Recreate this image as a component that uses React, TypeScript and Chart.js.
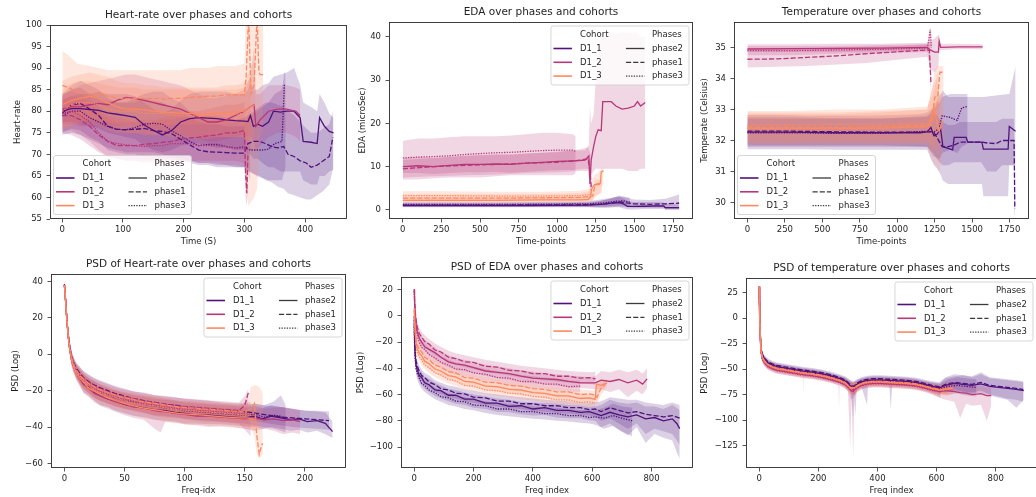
import React, { useEffect, useRef } from "react";
import { Chart, registerables } from "chart.js";
Chart.register(...registerables);

type Row = [number, number, number, number]; // x, mean, lower, upper

const COHORTS = ["D1_1", "D1_2", "D1_3"];
const PHASES = ["phase2", "phase1", "phase3"];
const LINE_COLORS = ["#51127c", "#b73779", "#fc8961"];
const BAND_COLORS = ["rgba(81,18,124,0.2)", "rgba(183,55,121,0.2)", "rgba(252,137,97,0.2)"];
const DASHES = [[], [5.2, 2], [1.3, 1.3]];
const FONT = '"DejaVu Sans", sans-serif';
const TICK_PX = 8.5;
const TITLE_PX = 10.5;

// ---------------- tick labels ----------------
const HR_XT = [0, 100, 200, 300, 400];
const HR_YT = [55, 60, 65, 70, 75, 80, 85, 90, 95, 100];
const TP_XT = [0, 250, 500, 750, 1000, 1250, 1500, 1750];
const EDA_YT = [0, 10, 20, 30, 40];
const TEMP_YT = [30, 31, 32, 33, 34, 35];
const PHR_XT = [0, 50, 100, 150, 200];
const PHR_YT = [-60, -40, -20, 0, 20, 40];
const PF_XT = [0, 200, 400, 600, 800];
const PEDA_YT = [-100, -80, -60, -40, -20, 0, 20];
const PTEMP_YT = [-125, -100, -75, -50, -25, 0, 25];

// ---------------- Heart-rate ----------------
const HR_11_P2: Row[] = [[0,80,77.5,82.5],[15,80.6,77.5,83.5],[30,80.6,77,84],[45,80.4,76.5,84],[60,80.2,76,84.5],[75,79.6,75,84],[90,79.3,74.5,84],[105,79,74,84],[120,78.6,73.5,83.5],[135,76.8,72,82],[150,75.6,71,80.5],[165,74.5,70.5,79.5],[180,75.5,71,80.5],[195,77.5,72,82.5],[210,78.3,72.5,84],[225,78.5,72.5,84.5],[240,78.4,72,84.5],[255,78.3,71.5,84.5],[270,78,71.5,84.5],[285,77.8,71,84],[300,77.7,71,84],[306,77.6,70,85],[310,79,70,87],[315,76.5,69,85],[322,77,69,85],[330,76.5,68,86],[340,77.5,67,86.5],[348,80,67,88],[360,79.8,66,88.5],[370,80,66,89],[382,80,66,90],[392,78.5,66,86],[397,73,64,82],[410,72.8,63,81],[420,72.5,63,80],[424,78.5,65,84],[432,76.5,65,82],[440,75.3,66,79.5],[447,75,66.5,78.5]];
const HR_11_P1: Row[] = [[0,79.5,75,84],[15,81.5,76,86],[30,81.8,75.5,87],[45,80.5,74,86],[60,79,73,85],[75,76.5,71,83],[90,75.8,70.5,82],[105,75.7,70,82],[120,75.8,70,82],[135,76,69.5,83],[150,75.5,69.5,82.5],[165,75.3,69,82],[180,74.8,69,81],[195,73.5,68.5,80],[210,72.2,68,78.5],[225,71,67.5,77.5],[240,70.6,67.5,77],[255,70.5,67,77],[270,70.4,67,76.5],[285,70.3,67,76.5],[300,70.3,67,76.5],[306,72.5,66,79],[315,73,65.5,80],[325,73,65,81],[335,72.5,64,82],[345,71.8,63.5,82],[355,71.5,62.5,81.5],[365,71.8,62,81],[372,70,61,80],[382,69.5,60.5,79],[392,68.5,60,77.5],[402,68,59.5,76],[410,67,59.5,75],[420,67.5,60.5,75],[430,68.5,61.5,76],[440,69.5,63,77],[446,74,66.5,80]];
const HR_11_P3: Row[] = [[0,79,74.5,83.5],[15,80,75,85],[30,80,74.5,85.5],[45,78.5,73.5,84],[60,77.5,72.5,83],[75,76.5,71.5,82.5],[90,75.8,71,82],[105,75.7,70.5,82],[120,76.2,70.5,83],[135,77,70.5,84],[150,77.2,70.5,84.5],[165,77,70,84.5],[180,75.5,69.5,83],[195,74.3,69,82],[210,73,68.5,80],[225,72,68,79],[240,72.3,68,79],[255,72.3,67.5,79],[270,71.8,67.5,78.5],[285,71.5,67,78],[300,71.7,67,78.5],[310,71,66,79],[320,71,65,80],[330,71,64.5,81],[340,71.2,64,82],[350,72.5,64,84],[362,73,64,85],[366,86,66,89],[368,86,67,89]];
const HR_12_P2: Row[] = [[0,80.5,77,84],[15,81,77,85],[30,81,76.5,86],[45,81.5,76.5,86.5],[60,81.8,76.5,87],[75,81.5,76,87.5],[90,82.5,76.5,88],[105,83.2,77,88.5],[120,83,77,88.5],[135,82.5,76.5,88],[150,82,76,87.5],[165,81.5,75.5,87],[180,81,75,86.5],[195,80.5,74.5,86],[210,79.5,74,85],[225,78.5,73.5,84],[240,77.5,73,83],[255,77.5,73,83],[270,78,73.5,83.5],[285,79,74,84],[300,80,74.5,85],[310,81,74,88],[316,81.5,73,95],[319,76.5,71,84],[326,78,72,84],[340,80,74,86],[355,80.5,75,86],[370,80.5,75,86],[385,80,74,85.5],[392,79,73,85]];
const HR_12_P1: Row[] = [[0,79,75,83],[15,79,74.5,83.5],[30,78,73.5,83],[45,76.5,72,82],[60,74.5,70.5,80],[75,73,69.5,78.5],[90,72,69,77.5],[105,72,68.5,77.5],[120,72,68.5,77.5],[135,72.3,68.5,78],[150,72.5,68.5,78],[165,72.8,68.5,78.5],[180,73,68.5,79],[195,73.5,68.5,79.5],[210,73.8,68.5,80],[225,74,68.5,80],[240,74.3,68.5,80.5],[255,74.5,68.5,81],[270,75,68.5,81.5],[285,75,68.5,81.5],[300,75.5,68,82],[302,66,60,76],[304,61,58,70],[306,70,62,78]];
const HR_12_P3: Row[] = [[0,79.5,75.5,84],[15,80,75.5,84.5],[30,79,74.5,84],[45,77.5,73,83],[60,75,71,81],[75,73,69.5,79],[90,72.5,69,78.5],[105,72.2,68.5,78],[120,72,68.5,77.5],[135,71.8,68,77.5],[150,72,68,77.5],[165,72,68,78],[180,72.5,68.5,78],[195,72.5,68.5,78.5],[210,72.5,68.5,78.5],[225,72,68,78],[240,72,68,78],[255,72,68,78],[270,71.8,67.5,78],[285,71.5,67.5,78],[300,71.5,67,78.5],[310,71,64,80]];
const HR_13_P2: Row[] = [[0,81.5,76,87],[15,82.5,77,88],[30,83,77.5,88.5],[45,83.5,78,89],[60,83,77.5,88.5],[75,82,76.5,88],[90,81,75.5,87],[105,80.5,75,86.5],[120,80.5,75,86.5],[135,80.3,75,86],[150,80,74.5,86],[165,79.8,74.5,85.5],[180,79.7,74.5,85.5],[195,79.5,74,85.5],[210,79.5,74,85.5],[225,79.3,73.5,85.5],[240,79.3,73.5,85.5],[255,79.5,74,85.5],[270,79.7,74,86],[285,79.8,74,86],[300,80,74,86.5],[310,81,72,90],[318,81.5,70,92]];
const HR_13_P1: Row[] = [[0,86,80,94],[10,85.5,80,93],[25,84.5,79,91],[45,84,78.5,90.5],[60,84,78,90],[75,83.5,77.5,89.5],[90,83,77,89.5],[105,83,77,89.5],[120,83,77,89.5],[135,83,77,89.5],[150,83,77,89.5],[165,82.8,76.5,89.5],[180,83,77,89.5],[195,83,77,89.5],[210,83.2,77,90],[225,83.3,77,90],[240,83.5,77,90],[255,83.5,77,90.5],[270,83.8,77,90.5],[285,83.8,77,90.5],[300,83.8,76.5,91],[303,88,62,105],[307,102,58,110],[311,84,59,108],[316,86,60,110],[321,102,62,110],[324,89,70,108],[326,88.5,74,104],[331,88.5,76,102]];
const HR_13_P3: Row[] = [[0,80,75.5,85],[15,81.5,76.5,86.5],[30,82,77,87],[45,82,77,87],[60,81.5,76.5,86.5],[75,80.5,75.5,86],[90,80,75,85.5],[105,80,75,85.5],[120,80,75,85.5],[135,79.5,74.5,85],[150,79.5,74.5,85],[165,79.5,74.5,85],[180,79,74,85],[195,79,74,85],[210,79,74,85],[225,79,74,85],[240,79,74,85],[255,79,74,85],[270,79,74,85],[285,79.3,74,85],[300,79.5,74,85.5],[310,80,72,88]];

// ---------------- EDA ----------------
const E_11_P2: Row[] = [[0,1,0.6,1.4],[200,1,0.6,1.4],[400,1,0.6,1.4],[600,1,0.6,1.4],[800,1,0.6,1.4],[1000,1.05,0.6,1.5],[1200,1.1,0.6,1.6],[1260,1.2,0.5,1.9],[1320,1.4,0.5,2.4],[1360,1.6,0.6,2.8],[1400,1.7,0.6,3.1],[1430,1.4,0.3,2.6],[1455,0.8,0.1,2],[1500,0.8,0.1,1.8],[1560,0.85,0.2,1.8],[1620,0.9,0.2,1.8],[1690,0.9,0.2,1.7],[1700,0.5,0,1.4],[1790,0.5,0,1.3]];
const E_11_P1: Row[] = [[0,1.1,0.7,1.6],[200,1.1,0.7,1.6],[400,1.1,0.7,1.6],[600,1.1,0.7,1.6],[800,1.15,0.7,1.7],[1000,1.15,0.7,1.7],[1200,1.2,0.7,1.8],[1280,1.3,0.6,2.1],[1350,1.6,0.6,2.6],[1400,1.9,0.8,3.3],[1450,1.6,0.6,2.8],[1500,1.4,0.5,2.4],[1600,1.3,0.5,2.3],[1700,1.4,0.5,2.6],[1760,1.5,0.5,3.2],[1790,1.6,0.4,3.6]];
const E_11_P3: Row[] = [[0,1.3,0.8,1.8],[200,1.3,0.8,1.8],[400,1.3,0.8,1.8],[600,1.3,0.8,1.8],[800,1.3,0.8,1.8],[1000,1.35,0.8,1.9],[1200,1.4,0.8,2],[1300,1.6,0.8,2.5],[1380,2,1,3],[1430,2.1,1,3.1],[1470,1.8,0.9,2.8]];
const E_12_P2: Row[] = [[0,10,8.5,12],[100,10.2,8.5,12.3],[200,10,8.3,12],[300,10.3,8.5,12.3],[400,10.5,8.7,12.5],[500,10.5,8.7,12.6],[600,10.6,8.8,12.8],[700,10.5,8.6,12.7],[800,10.8,8.8,13],[900,11,9,13.2],[1000,11.2,9.2,13.5],[1100,11.3,9.2,13.7],[1180,11.5,9.5,13.8],[1205,12.5,9.5,15],[1212,6,4,24],[1220,11.5,8,20],[1235,14.5,9,22],[1250,17,9.5,30],[1265,18.5,9.5,38],[1285,18.3,9.5,40],[1295,25,9.5,41],[1350,25,9.5,41],[1380,24,9.5,40.5],[1420,23.3,9.5,41],[1460,23.5,9,41],[1500,24,9,41],[1520,25,9,41],[1540,24,9.5,40],[1570,24.8,9.5,40]];
const E_12_P1: Row[] = [[0,9.5,7.5,11.5],[200,10,7.8,12],[400,10.3,8,12.5],[600,10.5,8.2,12.8],[800,10.8,8.5,13],[1000,11,8.7,13.3],[1150,11.5,9,14],[1200,11.8,9,14.5],[1215,8,4,13],[1222,4.5,3,9]];
const E_12_P3: Row[] = [[0,12,7,16],[100,12.2,7,16.5],[200,12.3,7.3,16.5],[300,12.5,7.5,16.8],[400,12.8,7.5,17],[500,13,7.5,17],[600,13.2,7.8,17],[700,13.3,8,17.2],[800,13.5,8,17.5],[900,13.7,8,17.8],[1000,13.8,8,17.8],[1100,13.8,8,17.5],[1120,13.5,8.5,17]];
const E_13_P2: Row[] = [[0,2.2,1.6,2.9],[300,2.2,1.6,2.9],[600,2.2,1.6,2.9],[900,2.3,1.7,3],[1150,2.3,1.7,3],[1200,2.4,1.7,3.2],[1215,3,1.8,4.5],[1225,5,2,7],[1240,5.8,3,8],[1260,6,3.5,8.5],[1280,6.2,4,9],[1285,8.8,5,9.8],[1300,9,6,9.8]];
const E_13_P1: Row[] = [[0,2.7,1.8,3.6],[300,2.7,1.8,3.6],[600,2.7,1.8,3.6],[900,2.8,1.9,3.7],[1150,2.9,2,3.9],[1230,3.2,2.1,4.5],[1245,5.8,3,7],[1270,5.9,3.5,7],[1290,6,4,7]];
const E_13_P3: Row[] = [[0,3.3,2.3,4.3],[300,3.3,2.3,4.3],[600,3.2,2.2,4.2],[900,3.2,2.2,4.2],[1150,3.3,2.3,4.4],[1220,3.6,2.5,5]];

// ---------------- Temperature ----------------
const T_11_P2: Row[] = [[0,32.27,31.72,32.82],[200,32.27,31.72,32.82],[400,32.26,31.72,32.8],[600,32.25,31.7,32.8],[800,32.25,31.7,32.8],[1000,32.25,31.7,32.82],[1150,32.25,31.7,32.85],[1200,32.28,31.7,32.9],[1225,32.42,31.4,33],[1245,32.15,31.2,33.1],[1265,32.2,31.1,33.3],[1290,32.35,30.9,33.5],[1305,31.8,30.7,33.6],[1340,31.75,30.6,33.4],[1370,31.7,30.6,33.4],[1380,32.1,30.6,33.4],[1460,32.1,30.6,33.4],[1470,31.95,30.6,33.4],[1565,31.95,30.6,33.4],[1575,31.72,30.2,33.4],[1740,31.72,30.2,33.5],[1748,32.45,31.2,33.5],[1790,32.3,31.2,34.4]];
const T_11_P1: Row[] = [[0,32.3,31.85,32.75],[300,32.3,31.85,32.75],[600,32.28,31.85,32.72],[900,32.27,31.85,32.72],[1200,32.27,31.8,32.75],[1240,32.3,31.6,32.9],[1265,32.1,31.4,32.8],[1300,31.8,31.2,32.6],[1340,31.8,31.2,32.5],[1380,31.85,31.3,32.5],[1420,31.95,31.3,32.6],[1500,31.95,31.3,32.6],[1560,31.95,31.3,32.6],[1600,31.92,31,32.6],[1660,31.9,31,32.6],[1700,32,31.2,32.7],[1780,32,31.2,32.7],[1785,29.8,29.6,30]];
const T_11_P3: Row[] = [[0,32.25,31.8,32.7],[300,32.25,31.8,32.7],[600,32.23,31.8,32.7],[900,32.23,31.8,32.7],[1200,32.3,31.8,32.8],[1240,32.25,31.5,33],[1280,32.4,31.4,33.2],[1300,32.8,31.6,33.4],[1350,32.75,31.7,33.5],[1400,32.65,31.6,33.5],[1430,33.05,31.8,33.5],[1470,33.1,31.9,33.5]];
const T_12_P2: Row[] = [[0,34.95,34.85,35.1],[300,34.96,34.85,35.1],[600,34.97,34.85,35.12],[900,34.98,34.88,35.12],[1200,35,34.9,35.15],[1220,34.92,34.3,35.2],[1250,34.85,34.2,35.3],[1275,34.85,34.4,35.4],[1280,35.2,34.9,35.4],[1290,35,34.92,35.12],[1400,35.02,34.94,35.12],[1570,35.02,34.94,35.1]];
const T_12_P1: Row[] = [[0,34.62,34.35,34.95],[200,34.63,34.38,34.95],[400,34.68,34.4,34.97],[600,34.73,34.45,35],[800,34.8,34.5,35.02],[1000,34.86,34.6,35.05],[1200,34.92,34.7,35.1],[1215,34.9,34.5,35.1],[1225,33.85,33.5,34.3]];
const T_12_P3: Row[] = [[0,34.9,34.75,35.05],[300,34.9,34.75,35.05],[600,34.92,34.8,35.05],[900,34.94,34.82,35.08],[1200,34.98,34.85,35.1],[1210,35.2,34.9,35.4],[1220,35.57,35,35.65],[1228,35,34.8,35.4]];
const T_13_P2: Row[] = [[0,32.38,31.85,32.85],[300,32.38,31.85,32.85],[600,32.38,31.85,32.85],[900,32.4,31.85,32.9],[1200,32.45,31.85,33],[1220,32.6,31.5,33.5],[1240,33,31.3,33.8],[1260,32.7,31.2,34],[1280,32.3,31,33.5],[1300,32.6,31.5,33.5],[1310,32.6,31.8,33.3]];
const T_13_P1: Row[] = [[0,32.42,31.9,32.9],[300,32.42,31.9,32.9],[600,32.42,31.9,32.9],[900,32.45,31.9,32.95],[1200,32.5,31.9,33],[1230,32.5,31.6,33.6],[1250,33.4,31.8,34.3],[1270,33.4,32.2,34.4],[1285,34.2,33,34.4],[1310,34.2,33.6,34.4]];
const T_13_P3: Row[] = [[0,32.5,32,32.95],[300,32.5,32,32.95],[600,32.52,32,33],[900,32.52,32,33],[1200,32.55,32,33.1],[1240,32.8,31.8,33.5],[1270,33.2,31.5,34.2],[1280,33.1,31.4,34]];

// ---------------- PSD of Heart-rate ----------------
const PH_11_P2: Row[] = [[0,38,36,40],[1,29,26,32],[2,19,16,22],[3,11,8,14],[4,5,2,8],[6,-3,-6,0],[8,-7,-10,-4.5],[10,-10,-13.5,-7],[13,-13,-17,-10],[16,-16.5,-21,-12.5],[20,-18,-22.5,-14.5],[25,-21,-25.5,-17],[30,-22.5,-28,-19],[36,-24.5,-29,-20.5],[42,-25.5,-31,-21.5],[50,-27.5,-32.5,-23],[58,-28.5,-34,-24],[66,-29.5,-34.5,-25],[75,-30.5,-36,-26.5],[84,-31,-36.5,-27],[92,-32,-37,-27.5],[100,-32.5,-38,-28],[110,-33.5,-38,-28.5],[120,-33.5,-38.5,-29],[130,-34,-38.5,-29.5],[140,-34.5,-39,-30],[150,-35,-39.5,-30],[158,-34,-40,-28.5],[165,-35.5,-41,-29.5],[172,-34,-40,-28],[180,-35,-41,-29],[188,-36,-42,-30],[195,-35.5,-41.5,-30.5],[202,-37,-43,-31],[210,-36.5,-42,-31.5],[217,-38,-44,-32],[223,-42.5,-46,-37]];
const PH_11_P1: Row[] = [[0,38.5,36.5,40],[1,30,27,33],[2,20,17,23],[3,12.5,10,15],[4,6,3,9],[6,-1.5,-4.5,1.5],[8,-5,-8,-2],[10,-8,-11,-5],[13,-10.5,-14,-7],[16,-13,-17,-9.5],[20,-15,-19,-11],[25,-17,-21.5,-13],[30,-18.5,-23,-14.5],[36,-20,-24.5,-16],[42,-21.5,-26,-17.5],[50,-23,-27.5,-19],[58,-24.5,-29,-20.5],[66,-25.5,-30,-21],[75,-26.5,-31,-22.5],[84,-27.5,-32,-23],[92,-28,-32.5,-23.5],[100,-29,-33,-24.5],[110,-29.5,-33.5,-25],[120,-30,-34,-25.5],[130,-30.5,-34.5,-26.5],[140,-31,-35,-27],[150,-31.5,-35.5,-27],[160,-32.5,-37,-27.5],[170,-33.5,-38,-28.5],[180,-34.5,-39,-29],[190,-35,-40,-30],[200,-35.5,-40.5,-31],[210,-36,-41,-31],[220,-36.5,-41.5,-31.5]];
const PH_11_P3: Row[] = [[0,38,36,40],[1,29.5,26.5,32.5],[2,19.5,16.5,22.5],[3,12,9,15],[4,5.5,2.5,8.5],[6,-2,-5,1],[8,-6,-9,-3],[10,-9,-12.5,-6],[13,-12,-16,-8.5],[16,-14.5,-19,-11],[20,-17,-21,-13],[25,-19,-24,-15],[30,-21,-25.5,-17],[36,-22.5,-27,-18.5],[42,-24,-28.5,-20],[50,-25.5,-30,-21.5],[58,-26.5,-31,-22.5],[66,-27.5,-32,-23.5],[75,-28.5,-33.5,-24.5],[84,-29.5,-34,-25],[92,-30,-34.5,-25.5],[100,-31,-35.5,-26.5],[110,-31.5,-36,-27],[120,-32,-36.5,-27.5],[130,-32.5,-37,-28],[140,-33,-37.5,-28.5],[150,-33.5,-38,-29],[158,-33,-39,-27],[166,-34.5,-40,-28],[174,-33.5,-41,-26],[180,-34,-42,-22.5],[184,-36,-43,-28]];
const PH_12_P2: Row[] = [[0,37.5,35.5,39.5],[1,29,26,32],[2,19,16,22],[3,11,8,14],[4,4.5,1.5,7.5],[6,-3.5,-7,-0.5],[8,-7.5,-11,-4.5],[10,-10.5,-14.5,-7],[13,-13.5,-18,-10],[16,-16.5,-21.5,-12.5],[20,-18.5,-23.5,-14.5],[25,-21.5,-26.5,-17],[30,-23,-28.5,-19],[36,-24.5,-30,-20.5],[42,-26,-31.5,-22],[50,-27.5,-33.5,-23],[58,-29,-35,-24.5],[66,-29.5,-36,-25],[75,-31,-41,-26.5],[80,-31.5,-43,-27],[84,-31.5,-37,-27],[92,-32.5,-37.5,-28],[100,-33,-38.5,-28.5],[110,-34,-39,-29],[120,-34,-40,-29.5],[130,-34.5,-39.5,-30],[140,-35,-40,-30.5],[150,-35.5,-41,-30.5],[158,-35,-42,-30],[166,-36,-41,-30],[174,-35.5,-42,-29.5],[182,-36.5,-44,-29],[190,-36,-43,-30],[196,-37,-44,-31]];
const PH_12_P1: Row[] = [[0,38,36,40],[1,30,27,33],[2,20,17,23],[3,12,9,15],[4,5.5,2.5,8.5],[6,-1.5,-4.5,1.5],[8,-5.5,-8.5,-2.5],[10,-8.5,-12,-5],[14,-12,-16,-8],[20,-15.5,-20,-11.5],[28,-18.5,-23,-14.5],[36,-20.5,-25,-16.5],[45,-22.5,-27,-18.5],[55,-24,-28.5,-20],[65,-25.5,-30,-21.5],[75,-26.5,-31,-22.5],[85,-27.5,-32,-23.5],[95,-28.5,-33,-24],[105,-29,-33.5,-24.5],[115,-29.5,-34,-25],[125,-30,-34.5,-25.5],[135,-30.5,-35,-26],[145,-31,-35.5,-26.5],[150,-28,-34,-23],[153,-21,-28,-19]];
const PH_12_P3: Row[] = [[0,38,36,40],[1,29.5,26.5,32.5],[2,19.5,16.5,22.5],[3,11.5,8.5,14.5],[4,5,2,8],[6,-2.5,-5.5,0.5],[8,-6.5,-10,-3.5],[10,-9.5,-13,-6],[14,-13,-17.5,-9.5],[20,-17,-21.5,-13],[28,-20,-25,-16],[36,-22,-27,-18],[45,-24,-29,-20],[55,-25.5,-30.5,-21.5],[65,-27,-32,-22.5],[75,-28,-34,-23.5],[85,-29,-34.5,-24.5],[95,-30,-35,-25.5],[105,-30.5,-36,-26],[115,-31,-37,-26.5],[125,-31.5,-37,-27],[135,-32,-37.5,-27.5],[145,-32.5,-38,-28],[155,-33,-45,-26]];
const PH_13_P2: Row[] = [[0,38,36,40],[1,29,26,32],[2,19,16,22],[3,11,8,14],[4,4.5,1.5,7.5],[6,-3.5,-6.5,-0.5],[8,-7.5,-11,-4.5],[10,-10.5,-14,-7.5],[14,-14,-18.5,-10.5],[20,-18.5,-23,-14.5],[28,-21.5,-27,-17.5],[36,-24,-29,-20],[45,-26,-31,-22],[55,-28,-33,-23.5],[65,-29.5,-35,-25],[75,-30.5,-36,-26],[85,-31.5,-37.5,-27],[95,-32.5,-38,-28],[105,-33,-39,-28.5],[115,-33.5,-39,-29],[125,-34,-39.5,-29.5],[135,-34.5,-40,-30],[145,-35,-40.5,-30.5],[152,-35,-41,-30],[159,-36,-42,-30]];
const PH_13_P1: Row[] = [[0,38,36,40],[1,30,27,33],[2,20,17,23],[3,12,9,15],[4,5.5,2.5,8.5],[6,-2,-5,1],[8,-6,-9,-3],[10,-9,-12.5,-5.5],[14,-12.5,-16.5,-8.5],[20,-16,-20.5,-12],[28,-19,-23.5,-15],[36,-21,-25.5,-17],[45,-23,-27.5,-19],[55,-24.5,-29,-20.5],[65,-26,-30.5,-21.5],[75,-27,-31.5,-22.5],[85,-28,-32.5,-23.5],[95,-29,-33.5,-24.5],[105,-29.5,-34,-25],[115,-30,-34.5,-25.5],[125,-30.5,-35,-26],[135,-31,-35.5,-26.5],[145,-31.5,-36,-27],[152,-31,-36,-26],[155,-30,-40,-18],[158,-27,-45,-17],[160,-45,-55,-17],[162,-55,-57,-18],[164,-50,-56,-20],[165,-49,-55,-22]];
const PH_13_P3: Row[] = [[0,38,36,40],[1,29.5,26.5,32.5],[2,19.5,16.5,22.5],[3,11.5,8.5,14.5],[4,5,2,8],[6,-2.5,-5.5,0.5],[8,-6.5,-10,-3.5],[10,-9.5,-13,-6.5],[14,-13,-17.5,-9.5],[20,-17,-21.5,-13.5],[28,-20.5,-25,-16.5],[36,-22.5,-27,-18.5],[45,-24.5,-29.5,-20.5],[55,-26.5,-31,-22],[65,-27.5,-32.5,-23],[75,-28.5,-34,-24],[85,-29.5,-35,-25],[95,-30.5,-35.5,-26],[105,-31,-36.5,-26.5],[115,-31.5,-37,-27],[125,-32,-37.5,-27.5],[135,-32.5,-38,-28],[145,-33,-38.5,-28.5],[155,-33.5,-40,-28]];

// ---------------- PSD of EDA ----------------
const PE_11_P2: Row[] = [[0,-3,-8,2],[1,-18,-22,-14],[3,-30,-34,-26],[6,-37.5,-42,-33],[10,-41,-45.5,-37],[17,-45.5,-50,-41],[25,-47,-53,-43],[35,-51,-55.5,-46.5],[50,-52.5,-58,-48],[70,-56.5,-61,-51],[90,-57,-63,-53],[115,-60.5,-65,-55.5],[140,-60.5,-67,-56.5],[170,-63.5,-68,-58.5],[200,-63.5,-70,-60],[240,-66.5,-71,-61.5],[280,-66.5,-73,-63],[320,-69,-73.5,-64],[360,-68.5,-75,-65.5],[400,-71,-76,-66],[440,-70,-75.5,-66.5],[480,-72,-77.5,-67],[520,-72,-78,-68],[560,-73.5,-78,-68.5],[590,-73,-79.5,-69.5],[610,-74.5,-80,-69],[630,-76,-85,-68],[660,-73.5,-82,-64],[690,-75.5,-87,-66],[720,-77,-91,-67],[750,-75.5,-85,-66],[780,-78.5,-97,-69],[810,-77.5,-90,-69],[840,-80,-93,-71],[870,-78.5,-95,-68],[885,-82,-104,-70],[895,-86,-109,-72]];
const PE_11_P1: Row[] = [[0,0,-5,5],[1,-15,-19,-11],[3,-27,-31,-23],[6,-34.5,-39,-30],[10,-38,-42.5,-34],[17,-42.5,-47,-38],[25,-45.5,-49.5,-41],[35,-47,-52,-43.5],[50,-50.5,-54.5,-45.5],[70,-52.5,-57.5,-49],[90,-55.5,-59.5,-51],[115,-56.5,-62,-53],[140,-59,-63,-54],[170,-59.5,-65,-56],[200,-62,-66,-57],[240,-62.5,-68,-59],[280,-65,-69,-60],[320,-65,-70.5,-61],[360,-67,-71,-62],[400,-67,-72.5,-63],[440,-68.5,-73,-64],[480,-68.5,-74,-64.5],[520,-70,-74.5,-65],[560,-70,-75.5,-66],[590,-71.5,-76,-66.5],[610,-71,-77,-66],[630,-73,-80,-65],[660,-70,-78,-62],[690,-72,-82,-63],[720,-74,-86,-64],[750,-73,-82,-64],[780,-75,-90,-66],[810,-76,-86,-67],[840,-77,-88,-68],[870,-76,-90,-66],[895,-78,-98,-68]];
const PE_11_P3: Row[] = [[0,-8,-13,-3],[1,-21,-25,-17],[3,-33,-37,-29],[6,-40,-44.5,-36],[10,-44,-48.5,-40],[17,-47.5,-52.5,-44],[25,-51.5,-55.5,-47],[35,-53,-58,-49.5],[50,-56.5,-60.5,-52],[70,-58.5,-63.5,-55],[90,-61.5,-65.5,-57],[115,-62.5,-68,-59],[140,-65,-69,-60.5],[170,-65.5,-71,-62],[200,-68,-72,-63.5],[240,-68.5,-74,-65],[280,-71,-75.5,-66.5],[320,-71,-76.5,-67],[360,-73,-77.5,-68],[400,-73,-78.5,-69],[440,-74.5,-79,-69.5],[480,-74.5,-80,-70],[520,-76,-80.5,-71],[560,-76,-81.5,-72],[590,-77.5,-82,-72],[610,-77,-83,-72],[640,-78,-86,-70],[670,-76,-84,-67],[700,-78,-88,-69],[735,-80,-92,-70]];
const PE_12_P2: Row[] = [[0,20,17,23],[1,12,8,16],[3,2,-2,6],[6,-6,-10,-2],[10,-12,-16.5,-8],[17,-17,-21.5,-12.5],[25,-20,-24.5,-15.5],[35,-23.5,-27,-18],[50,-25.5,-30,-21],[70,-28,-33.5,-24.5],[90,-31.5,-36,-27],[115,-35,-39,-30],[140,-36.5,-41,-32],[170,-37.5,-42.5,-33.5],[200,-39.5,-44,-35],[240,-42,-46,-37],[280,-43,-47.5,-38.5],[320,-44,-49,-40],[360,-46,-50.5,-41.5],[400,-47.5,-51.5,-42.5],[440,-48,-52.5,-43.5],[480,-48.5,-53.5,-44.5],[520,-50,-54.5,-45.5],[560,-51,-55,-46],[590,-51,-55.5,-46.5],[610,-51,-56,-46],[630,-49,-56,-42],[660,-50,-58,-43],[690,-48.5,-56,-41],[720,-51,-62,-43],[750,-49,-57,-41],[770,-52,-60,-44],[785,-48,-55,-40]];
const PE_12_P1: Row[] = [[0,20.5,17.5,23.5],[1,13,9,17],[3,4,0,8],[6,-3,-7,1],[10,-8.5,-13,-4.5],[17,-13.5,-18,-9],[25,-16,-21,-12],[35,-19.5,-23.5,-14.5],[50,-21.5,-26.5,-17.5],[70,-26,-30,-21],[90,-27.5,-32.5,-23.5],[115,-31.5,-35.5,-26.5],[140,-32.5,-37.5,-28.5],[170,-35,-39,-30],[200,-35.5,-40.5,-31.5],[240,-38.5,-42.5,-33.5],[280,-39,-44,-35],[320,-41.5,-45.5,-36.5],[360,-42,-47,-38],[400,-44,-48,-39],[440,-44,-49,-40],[480,-46,-50,-41],[520,-46,-51,-42],[560,-47.5,-51.5,-42.5],[590,-47,-52,-43],[611,-48,-52.5,-42.5]];
const PE_12_P3: Row[] = [[0,19,16,22],[1,10,6,14],[3,-1,-5,3],[6,-9,-13,-5],[10,-15.5,-20,-11.5],[17,-20,-25,-16],[25,-24,-28,-19],[35,-25.5,-30.5,-21.5],[50,-29.5,-33.5,-24.5],[70,-32,-37,-28],[90,-35.5,-39.5,-30.5],[115,-37.5,-42.5,-33.5],[140,-40.5,-44.5,-35.5],[170,-41,-46,-37],[200,-43.5,-47.5,-38.5],[240,-44.5,-49.5,-40.5],[280,-47,-51,-42],[320,-47.5,-52.5,-43.5],[360,-50,-54,-45],[400,-50,-55,-46],[440,-52,-56,-47],[480,-52,-57,-48],[520,-54,-58,-49],[560,-53.5,-58.5,-49.5]];
const PE_13_P2: Row[] = [[0,5,2,8],[1,-3,-6.5,0.5],[3,-12,-15.5,-8.5],[6,-20,-23.5,-16.5],[10,-25,-28.5,-21.5],[17,-28.5,-31.5,-24.5],[25,-30.5,-34.5,-27.5],[35,-34.5,-37.5,-30.5],[50,-36.5,-40.5,-33.5],[70,-40.5,-43.5,-36.5],[90,-42,-46,-39],[115,-45.5,-48.5,-41.5],[140,-46.5,-50.5,-43.5],[170,-50,-53,-46],[200,-50.5,-54.5,-47.5],[240,-53.5,-56.5,-49.5],[280,-54,-58,-51],[320,-56,-59,-52],[360,-56.5,-60.5,-53.5],[400,-58.5,-61.5,-54.5],[440,-59,-63,-56],[480,-61,-64,-57],[520,-61,-65,-58],[560,-63,-66,-59],[590,-62.5,-66.5,-59.5],[610,-63.5,-67,-60],[614,-52,-66,-50],[630,-53,-56,-50],[650,-51,-54,-48]];
const PE_13_P1: Row[] = [[0,6,3,9],[1,-1,-4.5,2.5],[3,-9.5,-13,-6],[6,-17,-20.5,-13.5],[10,-22,-25.5,-18.5],[17,-25.5,-28.5,-21.5],[25,-27.5,-31.5,-24.5],[35,-31.5,-34.5,-27.5],[50,-33.5,-37.5,-30.5],[70,-37.5,-40.5,-33.5],[90,-39,-43,-36],[115,-42.5,-45.5,-38.5],[140,-43.5,-47.5,-40.5],[170,-47,-50,-43],[200,-47.5,-51.5,-44.5],[240,-50.5,-53.5,-46.5],[280,-51,-55,-48],[320,-53,-56,-49],[360,-53.5,-57.5,-50.5],[400,-55.5,-58.5,-51.5],[440,-56,-60,-53],[480,-58,-61,-54],[520,-58,-62,-55],[560,-60,-63,-56],[590,-59.5,-63.5,-56.5],[610,-60.5,-64,-57],[616,-62,-68,-54],[630,-55,-60,-50],[645,-52,-56,-48]];
const PE_13_P3: Row[] = [[0,4,1,7],[1,-5,-8.5,-1.5],[3,-14.5,-18,-11],[6,-23,-26.5,-19.5],[10,-28,-31.5,-24.5],[17,-31.5,-34.5,-27.5],[25,-33.5,-37.5,-30.5],[35,-37.5,-40.5,-33.5],[50,-39.5,-43.5,-36.5],[70,-43.5,-46.5,-39.5],[90,-45,-49,-42],[115,-48.5,-51.5,-44.5],[140,-49.5,-53.5,-46.5],[170,-53,-56,-49],[200,-53.5,-57.5,-50.5],[240,-56.5,-59.5,-52.5],[280,-57,-61,-54],[320,-59,-62,-55],[360,-59.5,-63.5,-56.5],[400,-61.5,-64.5,-57.5],[440,-62,-66,-59],[480,-64,-67,-60],[520,-64,-68,-61],[560,-66,-69,-62],[590,-65.5,-69.5,-62.5],[610,-66.5,-70,-63]];

// ---------------- PSD of temperature ----------------
const PT_11_P2: Row[] = [[0,31,29,33],[1,16,13,19],[2,1.5,-1.5,4.5],[4,-18,-21,-15],[6,-30,-33,-27],[10,-36,-39,-33],[17,-40,-43,-37],[30,-44,-47,-41],[45,-46,-49,-43],[60,-47.5,-50.5,-44.5],[90,-49,-52,-46],[120,-50.5,-53.5,-47.5],[150,-52,-55,-49],[180,-53,-56,-50],[210,-54.5,-57.5,-51.5],[240,-56.5,-59.5,-53.5],[270,-59,-62,-56],[290,-61.5,-65,-58],[300,-64,-68,-60],[310,-67,-72,-62],[318,-70,-98,-64],[320,-68,-74,-63],[325,-67,-96,-62],[330,-65,-69,-61],[345,-62.5,-66,-59],[365,-61,-64.5,-57.5],[385,-60.5,-64,-57],[410,-60.5,-64,-57],[440,-61,-64.5,-57.5],[470,-61.5,-65,-58],[500,-62,-65.5,-58.5],[530,-63,-66.5,-59.5],[560,-65,-68.5,-61.5],[585,-67,-71,-63],[610,-68.5,-73,-64],[630,-66,-73,-59],[660,-64,-71,-57],[690,-65,-73,-56],[720,-66,-74,-58],[750,-64.5,-73,-55],[780,-67,-76,-59],[810,-68,-78,-60],[840,-69,-80,-61],[870,-70,-88,-62],[895,-71,-80,-63]];
const PT_11_P1: Row[] = [[0,31,29,33],[1,16.5,13.5,19.5],[2,2,-1,5],[4,-17,-20,-14],[6,-29,-32,-26],[10,-35,-38,-32],[17,-39,-42,-36],[30,-43,-46,-40],[45,-45,-48,-42],[60,-46.5,-49.5,-43.5],[90,-48,-51,-45],[120,-49.5,-52.5,-46.5],[150,-51,-54,-48],[180,-52,-55,-49],[210,-53.5,-56.5,-50.5],[240,-55.5,-58.5,-52.5],[270,-58,-61,-55],[290,-60.5,-64,-57],[300,-63,-67,-59],[310,-66,-71,-61],[320,-67,-73,-62],[330,-64,-68,-60],[345,-61.5,-65,-58],[365,-60,-63.5,-56.5],[385,-59.5,-63,-56],[410,-59.5,-63,-56],[440,-60,-63.5,-56.5],[470,-60.5,-64,-57],[500,-61,-64.5,-57.5],[530,-62,-65.5,-58.5],[560,-64,-67.5,-60.5],[585,-66,-70,-62],[610,-67.5,-72,-63],[630,-65,-72,-58],[660,-63,-70,-55],[690,-64,-72,-56],[720,-65,-73,-57],[750,-63,-71,-53],[780,-66,-75,-58],[810,-67,-77,-59],[840,-68,-79,-60],[870,-69,-80,-61],[893,-70,-82,-62]];
const PT_11_P3: Row[] = [[0,31,29,33],[1,15.5,12.5,18.5],[2,1,-2,4],[4,-19,-22,-16],[6,-31,-34,-28],[10,-37,-40,-34],[17,-41,-44,-38],[30,-45,-48,-42],[45,-47,-50,-44],[60,-48.5,-51.5,-45.5],[90,-50,-53,-47],[120,-51.5,-54.5,-48.5],[150,-53,-56,-50],[180,-54,-57,-51],[210,-55.5,-58.5,-52.5],[240,-57.5,-60.5,-54.5],[270,-60,-63,-57],[290,-62.5,-66,-59],[300,-65,-69,-61],[310,-68,-73,-63],[320,-68.5,-75,-63],[330,-66,-70,-62],[345,-63.5,-67,-60],[365,-62,-85,-58.5],[368,-62,-65.5,-58.5],[385,-61.5,-65,-58],[410,-61.5,-65,-58],[440,-62,-65.5,-58.5],[445,-62,-90,-58.5],[450,-62,-65.5,-58.5],[470,-62.5,-66,-59],[500,-63,-66.5,-59.5],[530,-64,-67.5,-60.5],[560,-66,-69.5,-62.5],[585,-68,-72,-64],[610,-69.5,-74,-65],[640,-67,-75,-60],[670,-66,-74,-58],[700,-67,-76,-59],[735,-68,-77,-60]];
const PT_12_P2: Row[] = [[0,30,28,32],[1,14,11,17],[2,-1,-4,2],[4,-21.5,-24.5,-18.5],[6,-33.5,-36.5,-30.5],[10,-39.5,-42.5,-36.5],[17,-43.5,-46.5,-40.5],[30,-47.5,-50.5,-44.5],[45,-49.5,-52.5,-46.5],[60,-51,-54,-48],[90,-52.5,-55.5,-49.5],[120,-54,-57,-51],[150,-55.5,-58.5,-52.5],[180,-56.5,-59.5,-53.5],[210,-58,-61,-55],[240,-60,-63,-57],[268,-62.5,-65.5,-59.5],[270,-62.5,-88,-59.5],[272,-62.5,-65.5,-59.5],[290,-65,-68.5,-61.5],[300,-67.5,-71.5,-63.5],[308,-70,-128,-65],[312,-71.5,-77,-66],[318,-72,-137,-66],[322,-70,-76,-65],[330,-68.5,-72.5,-64.5],[345,-66,-69.5,-62.5],[365,-64.5,-68,-61],[385,-64,-67.5,-60.5],[410,-64,-67.5,-60.5],[440,-64.5,-68,-61],[470,-65,-68.5,-61.5],[500,-65.5,-69,-62],[530,-66.5,-70,-63],[560,-68.5,-72,-65],[585,-70.5,-74.5,-66.5],[610,-72,-78,-67],[630,-71,-80,-64],[660,-72,-82,-65],[680,-73,-98,-66],[700,-73.5,-84,-66],[720,-75,-86,-67],[750,-74,-85,-66],[770,-76,-101,-68],[785,-76,-86,-68]];
const PT_12_P1: Row[] = [[0,30.5,28.5,32.5],[1,14.5,11.5,17.5],[2,-0.5,-3.5,2.5],[4,-20.5,-23.5,-17.5],[6,-32.5,-35.5,-29.5],[10,-38.5,-41.5,-35.5],[17,-42.5,-45.5,-39.5],[30,-46.5,-49.5,-43.5],[45,-48.5,-51.5,-45.5],[60,-50,-53,-47],[90,-51.5,-54.5,-48.5],[120,-53,-56,-50],[150,-54.5,-57.5,-51.5],[180,-55.5,-58.5,-52.5],[210,-57,-60,-54],[240,-59,-62,-56],[270,-61.5,-64.5,-58.5],[290,-64,-67.5,-60.5],[300,-66.5,-70.5,-62.5],[310,-69.5,-75,-64],[320,-69.5,-76,-64],[330,-67.5,-71.5,-63.5],[345,-65,-68.5,-61.5],[365,-63.5,-67,-60],[385,-63,-66.5,-59.5],[410,-63,-66.5,-59.5],[440,-63.5,-67,-60],[470,-64,-67.5,-60.5],[500,-64.5,-68,-61],[530,-65.5,-69,-62],[560,-67.5,-71,-64],[585,-69.5,-73.5,-65.5],[612,-71,-76,-66]];
const PT_12_P3: Row[] = [[0,30,28,32],[1,13.5,10.5,16.5],[2,-1.5,-4.5,1.5],[4,-22,-25,-19],[6,-34,-37,-31],[10,-40,-43,-37],[17,-44,-47,-41],[30,-48,-51,-45],[45,-50,-53,-47],[60,-51.5,-54.5,-48.5],[90,-53,-56,-50],[120,-54.5,-57.5,-51.5],[150,-56,-59,-53],[180,-57,-60,-54],[210,-58.5,-61.5,-55.5],[240,-60.5,-63.5,-57.5],[270,-63,-66,-60],[290,-65.5,-69,-62],[300,-68,-72,-64],[310,-71,-80,-66],[320,-70.5,-78,-65],[330,-69,-73,-65],[345,-66.5,-70,-63],[365,-65,-68.5,-61.5],[385,-64.5,-68,-61],[410,-64.5,-68,-61],[440,-65,-68.5,-61.5],[470,-65.5,-69,-62],[500,-66,-69.5,-62.5],[530,-67,-70.5,-63.5],[560,-69,-72.5,-65.5],[585,-71,-75,-67],[614,-72.5,-78,-67]];
const PT_13_P2: Row[] = [[0,31,29,33],[1,15,12,18],[2,0,-3,3],[4,-20,-23,-17],[6,-32,-35,-29],[10,-38,-41,-35],[17,-42,-45,-39],[30,-46,-49,-43],[45,-48,-51,-45],[60,-49.5,-52.5,-46.5],[90,-51,-54,-48],[120,-52.5,-55.5,-49.5],[148,-54,-57,-51],[150,-54,-76,-51],[152,-54,-57,-51],[180,-55,-58,-52],[210,-56.5,-59.5,-53.5],[240,-58.5,-61.5,-55.5],[270,-61,-64,-58],[290,-63.5,-67,-60],[300,-66,-70,-62],[310,-69,-74,-64],[320,-68.5,-74,-63],[330,-67,-71,-63],[345,-64.5,-68,-61],[365,-63,-66.5,-59.5],[385,-62.5,-66,-59],[410,-62.5,-66,-59],[440,-63,-66.5,-59.5],[470,-63.5,-67,-60],[500,-64,-67.5,-60.5],[530,-65,-68.5,-61.5],[560,-67,-70.5,-63.5],[585,-69,-73,-65],[610,-70.5,-75,-66],[630,-70,-76,-64],[655,-69,-75,-63]];
const PT_13_P1: Row[] = [[0,31,29,33],[1,15.5,12.5,18.5],[2,0.5,-2.5,3.5],[4,-19.5,-22.5,-16.5],[6,-31.5,-34.5,-28.5],[10,-37.5,-40.5,-34.5],[17,-41.5,-44.5,-38.5],[30,-45.5,-48.5,-42.5],[45,-47.5,-50.5,-44.5],[60,-49,-52,-46],[90,-50.5,-53.5,-47.5],[120,-52,-55,-49],[150,-53.5,-56.5,-50.5],[180,-54.5,-57.5,-51.5],[210,-56,-59,-53],[240,-58,-61,-55],[270,-60.5,-63.5,-57.5],[290,-63,-66.5,-59.5],[300,-65.5,-69.5,-61.5],[310,-68.5,-73.5,-63.5],[320,-68,-73.5,-62.5],[330,-66.5,-70.5,-62.5],[345,-64,-67.5,-60.5],[365,-62.5,-66,-59],[385,-62,-65.5,-58.5],[410,-62,-65.5,-58.5],[440,-62.5,-66,-59],[470,-63,-66.5,-59.5],[500,-63.5,-67,-60],[530,-64.5,-68,-61],[560,-66.5,-70,-63],[585,-68.5,-72.5,-64.5],[610,-70,-74.5,-65.5],[630,-69.5,-75,-64],[655,-68.5,-74,-63]];
const PT_13_P3: Row[] = [[0,31,29,33],[1,14.5,11.5,17.5],[2,-0.5,-3.5,2.5],[4,-20.5,-23.5,-17.5],[6,-32.5,-35.5,-29.5],[10,-38.5,-41.5,-35.5],[17,-42.5,-45.5,-39.5],[30,-46.5,-49.5,-43.5],[45,-48.5,-51.5,-45.5],[60,-50,-53,-47],[90,-51.5,-54.5,-48.5],[120,-53,-56,-50],[150,-54.5,-57.5,-51.5],[180,-55.5,-58.5,-52.5],[210,-57,-60,-54],[240,-59,-62,-56],[270,-61.5,-64.5,-58.5],[290,-64,-67.5,-60.5],[300,-66.5,-70.5,-62.5],[310,-69.5,-74.5,-64.5],[320,-69,-74.5,-63.5],[330,-67.5,-71.5,-63.5],[345,-65,-68.5,-61.5],[365,-63.5,-67,-60],[385,-63,-66.5,-59.5],[410,-63,-66.5,-59.5],[440,-63.5,-67,-60],[470,-64,-67.5,-60.5],[500,-64.5,-68,-61],[530,-65.5,-69,-62],[560,-67.5,-71,-64],[585,-69.5,-73.5,-65.5],[610,-71,-75.5,-66.5],[640,-70,-76,-64]];

// ---------------- panel layout ----------------
type Panel = {
  title: string; xLabel: string; yLabel: string;
  frame: [number, number, number, number];
  xRange: [number, number]; yRange: [number, number];
  xTicks: number[]; yTicks: number[];
  legend: "ll" | "ur"; yLabelGap: number;
  series: Row[][];
};

const PANELS: Panel[] = [
  { title: "Heart-rate over phases and cohorts", xLabel: "Time (S)", yLabel: "Heart-rate",
    frame: [50, 25, 347, 219], xRange: [-20.3, 469.2], yRange: [55, 100], xTicks: HR_XT, yTicks: HR_YT,
    legend: "ll", yLabelGap: 32.5,
    series: [HR_11_P2, HR_11_P1, HR_11_P3, HR_12_P2, HR_12_P1, HR_12_P3, HR_13_P2, HR_13_P1, HR_13_P3] },
  { title: "EDA over phases and cohorts", xLabel: "Time-points", yLabel: "EDA (microSec)",
    frame: [389, 22, 693, 219], xRange: [-89.5, 1879.5], yRange: [-2.1, 43.4], xTicks: TP_XT, yTicks: EDA_YT,
    legend: "ur", yLabelGap: 26.7,
    series: [E_11_P2, E_11_P1, E_11_P3, E_12_P2, E_12_P1, E_12_P3, E_13_P2, E_13_P1, E_13_P3] },
  { title: "Temperature over phases and cohorts", xLabel: "Time-points", yLabel: "Temperate (Celsius)",
    frame: [734, 22, 1029, 219], xRange: [-89.5, 1879.5], yRange: [29.47, 35.82], xTicks: TP_XT, yTicks: TEMP_YT,
    legend: "ll", yLabelGap: 29.3,
    series: [T_11_P2, T_11_P1, T_11_P3, T_12_P2, T_12_P1, T_12_P3, T_13_P2, T_13_P1, T_13_P3] },
  { title: "PSD of Heart-rate over phases and cohorts", xLabel: "Freq-idx", yLabel: "PSD (Log)",
    frame: [51, 274, 346, 468], xRange: [-11.15, 234.15], yRange: [-62.5, 44.07], xTicks: PHR_XT, yTicks: PHR_YT,
    legend: "ur", yLabelGap: 35,
    series: [PH_11_P2, PH_11_P1, PH_11_P3, PH_12_P2, PH_12_P1, PH_12_P3, PH_13_P2, PH_13_P1, PH_13_P3] },
  { title: "PSD of EDA over phases and cohorts", xLabel: "Freq index", yLabel: "PSD (Log)",
    frame: [401, 277, 693, 468], xRange: [-44.75, 939.75], yRange: [-116, 29.7], xTicks: PF_XT, yTicks: PEDA_YT,
    legend: "ur", yLabelGap: 40.7,
    series: [PE_11_P2, PE_11_P1, PE_11_P3, PE_12_P2, PE_12_P1, PE_12_P3, PE_13_P2, PE_13_P1, PE_13_P3] },
  { title: "PSD of temperature over phases and cohorts", xLabel: "Freq index", yLabel: "PSD (Log)",
    frame: [746, 278, 1037, 468], xRange: [-44.75, 939.75], yRange: [-147, 39.3], xTicks: PF_XT, yTicks: PTEMP_YT,
    legend: "ur", yLabelGap: 41,
    series: [PT_11_P2, PT_11_P1, PT_11_P3, PT_12_P2, PT_12_P1, PT_12_P3, PT_13_P2, PT_13_P1, PT_13_P3] },
];

const PAD_L = 62, PAD_T = 24, PAD_B = 32, PAD_R = 4;

function fmt(v: number): string {
  return v < 0 ? "\u2212" + String(Math.abs(v)) : String(v);
}

function drawLegend(ctx: CanvasRenderingContext2D, area: any, loc: string) {
  ctx.save();
  ctx.font = `${TICK_PX}px ${FONT}`;
  const tw = Math.max(...["Phases", "phase2", "phase1", "phase3"].map((s) => ctx.measureText(s).width));
  const W = 101 + tw + 6;
  const H = 59;
  const x0 = loc === "ur" ? area.right - 4 - W : area.left + 3.5;
  const y0 = loc === "ur" ? area.top + 4 : area.bottom - 4.5 - H;
  ctx.beginPath();
  if ((ctx as any).roundRect) (ctx as any).roundRect(x0, y0, W, H, 2.5);
  else ctx.rect(x0, y0, W, H);
  ctx.fillStyle = "rgba(255,255,255,0.8)";
  ctx.fill();
  ctx.strokeStyle = "#cccccc";
  ctx.lineWidth = 0.8;
  ctx.stroke();
  ctx.textBaseline = "middle";
  ctx.textAlign = "left";
  ctx.fillStyle = "#262626";
  const rowY = (i: number) => y0 + 8.7 + i * 13.8;
  ctx.fillText("Cohort", x0 + 29, rowY(0));
  ctx.fillText("Phases", x0 + 101, rowY(0));
  for (let i = 0; i < 3; i++) {
    const y = rowY(i + 1);
    ctx.setLineDash([]);
    ctx.strokeStyle = LINE_COLORS[i];
    ctx.lineWidth = 1.6;
    ctx.beginPath(); ctx.moveTo(x0 + 2.5, y); ctx.lineTo(x0 + 21, y); ctx.stroke();
    ctx.fillStyle = "#262626";
    ctx.fillText(COHORTS[i], x0 + 29, y);
    ctx.setLineDash(DASHES[i]);
    ctx.strokeStyle = "#3a3a3a";
    ctx.lineWidth = 1.3;
    ctx.beginPath(); ctx.moveTo(x0 + 75, y); ctx.lineTo(x0 + 93.5, y); ctx.stroke();
    ctx.fillText(PHASES[i], x0 + 101, y);
  }
  ctx.restore();
}

function makeDecor(p: Panel) {
  return {
    id: "decor",
    afterDatasetsDraw(chart: any) {
      const { ctx, chartArea: a } = chart;
      ctx.save();
      ctx.strokeStyle = "#2b2b2b";
      ctx.lineWidth = 0.9;
      ctx.setLineDash([]);
      ctx.strokeRect(a.left + 0.5, a.top + 0.5, a.right - a.left - 1, a.bottom - a.top - 1);
      ctx.restore();
    },
    afterDraw(chart: any) {
      const { ctx, chartArea: a } = chart;
      ctx.save();
      ctx.fillStyle = "#1f1f1f";
      ctx.textAlign = "center";
      ctx.textBaseline = "middle";
      ctx.font = `${TITLE_PX}px ${FONT}`;
      ctx.fillText(p.title, (a.left + a.right) / 2, a.top - 9.4);
      ctx.font = `${TICK_PX}px ${FONT}`;
      ctx.fillText(p.xLabel, (a.left + a.right) / 2, a.bottom + 22.5);
      ctx.translate(a.left - p.yLabelGap, (a.top + a.bottom) / 2);
      ctx.rotate(-Math.PI / 2);
      ctx.fillText(p.yLabel, 0, 0);
      ctx.restore();
      drawLegend(ctx, a, p.legend);
    },
  };
}

function PanelChart({ p }: { p: Panel }) {
  const ref = useRef<HTMLCanvasElement>(null);
  const [fl, ft, fr, fb] = p.frame;
  const w = fr - fl + PAD_L + PAD_R;
  const h = fb - ft + PAD_T + PAD_B;
  useEffect(() => {
    if (!ref.current) return;
    const ds: any[] = [];
    p.series.forEach((rows, i) => {
      const c = Math.floor(i / 3);
      ds.push({ data: rows.map((r) => ({ x: r[0], y: r[2] })), borderWidth: 0, borderColor: "rgba(0,0,0,0)",
        pointRadius: 0, fill: false, clip: 0 });
      ds.push({ data: rows.map((r) => ({ x: r[0], y: r[3] })), borderWidth: 0, borderColor: "rgba(0,0,0,0)",
        pointRadius: 0, fill: "-1", backgroundColor: BAND_COLORS[c], clip: 0 });
    });
    p.series.forEach((rows, i) => {
      const c = Math.floor(i / 3);
      ds.push({ data: rows.map((r) => ({ x: r[0], y: r[1] })), borderColor: LINE_COLORS[c], borderWidth: 1.3,
        borderDash: DASHES[i % 3], pointRadius: 0, fill: false, clip: 0 });
    });
    ds.forEach((d, k) => { d.order = ds.length - k; });
    const tickFont = { family: FONT, size: TICK_PX };
    const grid = { drawOnChartArea: false, drawTicks: true, tickLength: 3.5, color: "#2b2b2b", lineWidth: 0.8 };
    const chart = new Chart(ref.current, {
      type: "line",
      data: { datasets: ds },
      options: {
        responsive: false,
        maintainAspectRatio: false,
        animation: false,
        devicePixelRatio: 1,
        events: [],
        layout: { autoPadding: false, padding: { left: 0, right: PAD_R, top: PAD_T, bottom: 0 } },
        plugins: { legend: { display: false }, tooltip: { enabled: false }, title: { display: false } },
        elements: { point: { radius: 0 }, line: { tension: 0 } },
        scales: {
          x: {
            type: "linear", min: p.xRange[0], max: p.xRange[1],
            afterBuildTicks: (s: any) => { s.ticks = p.xTicks.map((v) => ({ value: v })); },
            afterFit: (s: any) => { s.height = PAD_B; s.paddingLeft = 0; s.paddingRight = 0; },
            grid, border: { display: false },
            ticks: { font: tickFont, color: "#262626", padding: 2.4, autoSkip: false, maxRotation: 0, callback: (v: any) => fmt(Number(v)) },
          },
          y: {
            type: "linear", min: p.yRange[0], max: p.yRange[1],
            afterBuildTicks: (s: any) => { s.ticks = p.yTicks.map((v) => ({ value: v })); },
            afterFit: (s: any) => { s.width = PAD_L; s.paddingTop = 0; s.paddingBottom = 0; },
            grid, border: { display: false },
            ticks: { font: tickFont, color: "#262626", padding: 4.5, autoSkip: false, callback: (v: any) => fmt(Number(v)) },
          },
        },
      } as any,
      plugins: [makeDecor(p)],
    });
    return () => chart.destroy();
  }, []);
  return (
    <canvas
      ref={ref}
      width={w}
      height={h}
      style={{ position: "absolute", left: fl - PAD_L, top: ft - PAD_T, width: w, height: h }}
    />
  );
}

export default function App() {
  return (
    <div style={{ position: "absolute", left: 0, top: 0, width: 1036, height: 497, overflow: "hidden", background: "#ffffff" }}>
      {PANELS.map((p, i) => (
        <PanelChart key={i} p={p} />
      ))}
    </div>
  );
}
